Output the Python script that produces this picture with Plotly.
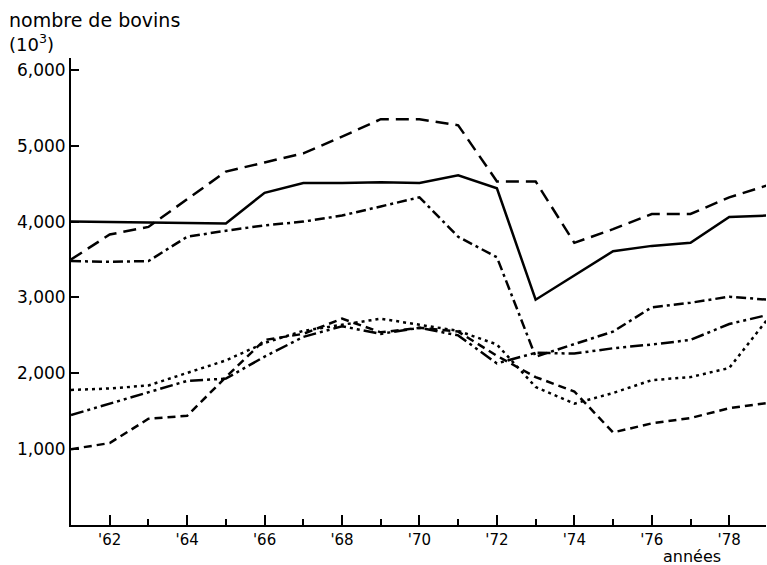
import plotly.graph_objects as go

years = list(range(1961, 1980))

solid_vals = [4000, 3990, 3985, 3980, 3975, 4380, 4510, 4510, 4520, 4510,
              4610, 4440, 2970, 3290, 3610, 3680, 3720, 4060, 4080]
longdash_vals = [3500, 3830, 3930, 4300, 4660, 4780, 4900, 5120, 5350, 5350,
                 5270, 4530, 4530, 3720, 3900, 4100, 4100, 4320, 4480]
dashdot_vals = [3480, 3470, 3480, 3800, 3880, 3950, 4000, 4080, 4200, 4320,
                3800, 3530, 2220, 2390, 2550, 2870, 2930, 3010, 2970]
dashdotdot_vals = [1450, 1600, 1760, 1900, 1930, 2220, 2480, 2620, 2520, 2600,
                   2500, 2130, 2270, 2260, 2330, 2380, 2440, 2650, 2770]
dotted_vals = [1780, 1800, 1840, 2000, 2170, 2400, 2560, 2640, 2720, 2640,
               2560, 2380, 1820, 1600, 1740, 1910, 1950, 2070, 2720]
shortdash_vals = [1000, 1080, 1400, 1440, 1950, 2440, 2520, 2720, 2540, 2600,
                  2550, 2230, 1950, 1760, 1220, 1340, 1410, 1540, 1610]

x_tickvals = [1962, 1964, 1966, 1968, 1970, 1972, 1974, 1976, 1978]
x_ticktext = ["'62", "'64", "'66", "'68", "'70", "'72", "'74", "'76", "'78"]
x_minorvals = [1963, 1965, 1967, 1969, 1971, 1973, 1975, 1977]
y_tickvals = [1000, 2000, 3000, 4000, 5000, 6000]
y_ticktext = ["1,000", "2,000", "3,000", "4,000", "5,000", "6,000"]

series = [
    (solid_vals, "solid"),
    (longdash_vals, "13px,7px"),
    (dashdot_vals, "10px,4px,3px,4px"),
    (dashdotdot_vals, "13px,4px,3px,4px,3px,4px"),
    (dotted_vals, "3px,4px"),
    (shortdash_vals, "8px,5px"),
]

fig = go.Figure()
for vals, dash in series:
    fig.add_trace(go.Scatter(x=years, y=vals, mode="lines",
                             line=dict(color="black", width=2.5, dash=dash),
                             showlegend=False, hoverinfo="skip"))

FONT = "DejaVu Sans"
fig.update_layout(
    width=767, height=565,
    margin=dict(l=71, r=1, t=58, b=40),
    paper_bgcolor="white", plot_bgcolor="white",
    font=dict(family=FONT, color="black", size=16),
    xaxis=dict(range=[1961, 1978.95], showgrid=False, zeroline=False,
               showline=True, linecolor="black", linewidth=2,
               ticks="inside", ticklen=10, tickwidth=2, tickcolor="black",
               tickvals=x_tickvals, ticktext=x_ticktext,
               tickfont=dict(size=15, family=FONT),
               minor=dict(tickvals=x_minorvals, ticks="inside", ticklen=6,
                          tickwidth=2, tickcolor="black", showgrid=False)),
    yaxis=dict(range=[0, 6157], showgrid=False, zeroline=False,
               showline=True, linecolor="black", linewidth=2,
               ticks="inside", ticklen=8, tickwidth=2, tickcolor="black",
               tickvals=y_tickvals, ticktext=y_ticktext,
               tickfont=dict(size=17, family=FONT)),
    annotations=[
        dict(text="nombre de bovins", xref="paper", yref="paper",
             x=0, xshift=-64, y=1, yshift=38, xanchor="left", yanchor="middle",
             showarrow=False, font=dict(size=19, family=FONT)),
        dict(text="(10<sup>3</sup>)", xref="paper", yref="paper",
             x=0, xshift=-64, y=1, yshift=15, xanchor="left", yanchor="middle",
             showarrow=False, font=dict(size=18, family=FONT)),
        dict(text="années", xref="paper", yref="paper",
             x=(662 - 71) / 696, y=0, yshift=-31, xanchor="left", yanchor="middle",
             showarrow=False, font=dict(size=16, family=FONT)),
    ],
)

fig.write_html("out.html")
